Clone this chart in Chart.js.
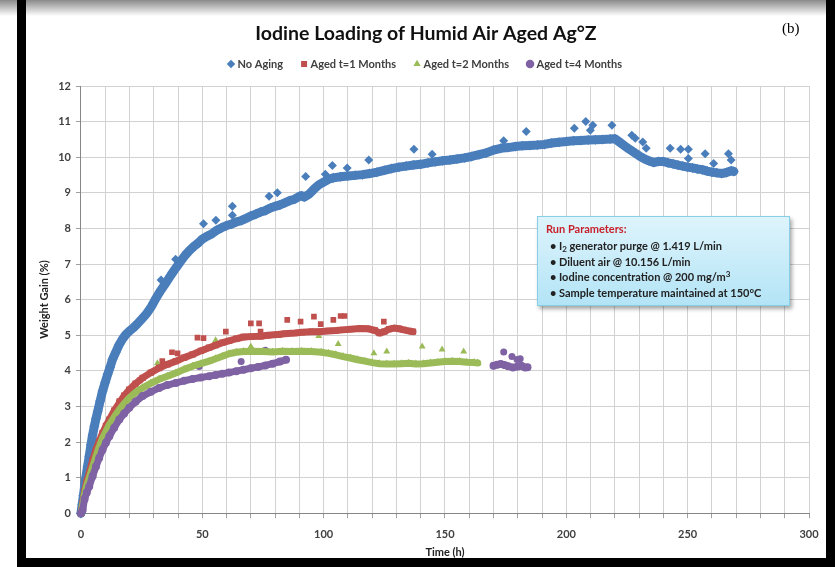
<!DOCTYPE html>
<html>
<head>
<meta charset="utf-8">
<title>Iodine Loading of Humid Air Aged Ag°Z</title>
<script src="https://cdn.jsdelivr.net/npm/chart.js@4.4.1/dist/chart.umd.min.js"></script>
<style>
body { margin: 0; background: #fff; }
#wrap { position: relative; width: 835px; height: 567px; overflow: hidden; background: #fff; }
#myChart { position: absolute; left: 0; top: 0; }
#topShade { position: absolute; left: 0; top: 0; width: 835px; height: 16px; background: linear-gradient(#8a8a8a, #ffffff); }
.bar { position: absolute; background: #000; }
#tag { position: absolute; left: 782px; top: 20px; font: 15px "Liberation Serif", serif; color: #000; }
#params {
    position: absolute; left: 537px; top: 216px; width: 251px; height: 88px;
    border: 1px solid #86cfe6;
    background: linear-gradient(#def4fc, #b3e4f6);
    box-shadow: 2px 3px 4px rgba(0,0,0,0.35);
    font: bold 11px Lato, sans-serif; color: #222;
}
#params .head { position: absolute; left: 8px; top: 5px; line-height: 14px; color: #c8202a; }
#params .row { position: absolute; left: 21px; line-height: 15px; white-space: nowrap; }
#params .row:before { content: "\2022"; position: absolute; left: -9px; }
#params sub { font-size: 8px; vertical-align: -2px; line-height: 0; }
#params sup { font-size: 8px; vertical-align: 4px; line-height: 0; }
</style>
</head>
<body>
<div id="wrap">
  <canvas id="myChart" width="835" height="567"></canvas>
  <div id="topShade"></div>
  <div class="bar" style="left:17px;top:0;width:9px;height:567px"></div>
  <div class="bar" style="left:826px;top:0;width:9px;height:567px"></div>
  <div class="bar" style="left:17px;top:558px;width:818px;height:9px"></div>
  <div id="tag">(b)</div>
  <div id="params">
    <div class="head">Run Parameters:</div>
    <div class="row" style="top:21px">I<sub>2</sub> generator purge @ 1.419 L/min</div>
    <div class="row" style="top:37px">Diluent air @ 10.156 L/min</div>
    <div class="row" style="top:52px">Iodine concentration @ 200 mg/m<sup>3</sup></div>
    <div class="row" style="top:68px">Sample temperature maintained at 150°C</div>
  </div>
</div>
<script>
// time (h), weight gain (%)
var noAging = [[0,0],[0.5,0.25],[1,0.5],[1.5,0.75],[2,1.0],[2.7,1.31],[3.4,1.6],[4.1,1.92],[4.8,2.2],[5.5,2.44],[6.2,2.66],[6.9,2.86],[7.9,3.15],[8.9,3.43],[10,3.68],[11,3.9],[12,4.1],[13,4.32],[14.4,4.53],[15.8,4.74],[17.2,4.9],[18.5,5.02],[20,5.12],[21.5,5.2],[23,5.3],[25,5.45],[27,5.6],[29,5.8],[31,6.05],[33,6.27],[35,6.47],[37,6.68],[39,6.88],[41,7.07],[43,7.25],[45,7.4],[47,7.52],[48.5,7.6],[50,7.7],[52,7.78],[54,7.85],[56,7.95],[58,8.02],[60,8.08],[62,8.12],[64,8.18],[66,8.22],[68,8.28],[70,8.35],[72,8.4],[74,8.46],[76,8.5],[78,8.57],[80,8.62],[82,8.66],[84,8.72],[86,8.78],[88,8.82],[90,8.9],[91,8.92],[92,8.88],[94,8.96],[96,9.1],[98,9.22],[100,9.3],[102,9.38],[104,9.42],[107,9.45],[110,9.47],[113,9.49],[116,9.51],[119,9.54],[122,9.58],[125,9.63],[128,9.68],[131,9.72],[134,9.75],[137,9.78],[140,9.8],[143,9.84],[146,9.87],[149,9.9],[152,9.92],[155,9.95],[158,9.98],[161,10.02],[164,10.07],[167,10.12],[170,10.2],[173,10.25],[176,10.27],[179,10.3],[182,10.32],[185,10.33],[188,10.34],[191,10.36],[194,10.4],[197,10.42],[200,10.44],[203,10.46],[206,10.47],[209,10.48],[212,10.49],[215,10.5],[218,10.51],[220,10.52],[222,10.42],[224,10.32],[226,10.22],[228,10.13],[230,10.04],[232,9.96],[234,9.9],[236,9.85],[238,9.88],[240,9.88],[242,9.84],[244,9.81],[246,9.78],[248,9.75],[250,9.72],[252,9.7],[254,9.67],[256,9.65],[258,9.61],[260,9.58],[262,9.56],[264,9.54],[266,9.57],[268,9.62],[269,9.6]];
var noAgingOut = [[22,5.24],[33,6.55],[39,7.13],[50.5,8.13],[55.6,8.23],[62.4,8.37],[62.4,8.62],[77.5,8.9],[80.9,9.0],[92.6,9.46],[100.7,9.52],[103.6,9.77],[109.7,9.7],[118.6,9.92],[137.2,10.22],[144.7,10.08],[174.2,10.46],[183.5,10.72],[203.3,10.81],[208,11.0],[210.9,10.9],[209.9,10.76],[218.8,10.9],[227,10.62],[228.4,10.53],[231.5,10.43],[232.9,10.25],[242.8,10.25],[247.1,10.22],[250.3,10.22],[250.3,9.96],[257.2,10.1],[260.7,9.82],[266.8,10.1],[267.9,9.92]];

var agedT1 = [[0,0],[0.7,0.28],[1.5,0.62],[2.4,0.9],[3.4,1.13],[4.8,1.48],[6.2,1.78],[7.5,2.02],[8.9,2.25],[10.3,2.45],[11.7,2.63],[13.7,2.88],[15.8,3.1],[17.8,3.3],[19.9,3.47],[22.5,3.64],[25.4,3.8],[28.8,3.95],[32.2,4.08],[35.6,4.18],[39.1,4.27],[42.5,4.37],[46,4.46],[49.4,4.56],[52.8,4.65],[55.5,4.72],[58.3,4.79],[61,4.84],[64,4.9],[67,4.95],[70,4.96],[74,4.97],[77,5.0],[81,5.02],[84,5.04],[88,5.06],[91,5.08],[95,5.1],[98,5.1],[102,5.12],[105,5.13],[108,5.15],[111,5.17],[115,5.19],[118,5.18],[121,5.14],[123,5.06],[125,5.1],[127,5.17],[129,5.2],[131,5.18],[133,5.15],[135,5.12],[136.8,5.1]];
var agedT1Out = [[8.2,1.83],[15.8,3.15],[24.2,3.73],[33.5,4.27],[37.5,4.52],[39.8,4.49],[48,4.93],[50.5,4.92],[59.7,5.1],[70,5.33],[73.4,5.33],[74,5.1],[85,5.43],[90.5,5.38],[96,5.52],[98.8,5.31],[104,5.43],[107,5.54],[108.6,5.54],[124.8,5.38]];

var agedT2 = [[0,0],[0.7,0.23],[1.5,0.55],[2.4,0.78],[3.4,0.99],[4.8,1.3],[6.2,1.6],[7.5,1.86],[8.9,2.11],[10.3,2.3],[11.7,2.49],[13.7,2.7],[15.8,2.91],[17.8,3.08],[19.9,3.24],[22.5,3.39],[25.4,3.52],[28.8,3.65],[32.2,3.76],[35.6,3.85],[39.1,3.94],[42.5,4.04],[46,4.13],[49.4,4.2],[52.8,4.27],[55.5,4.34],[58.3,4.41],[61,4.48],[64,4.52],[67,4.54],[71,4.55],[75,4.54],[79,4.53],[83,4.55],[87,4.54],[91,4.55],[95,4.54],[99,4.52],[102,4.49],[105,4.45],[108,4.4],[111,4.36],[114,4.31],[117,4.27],[120,4.23],[123,4.2],[126,4.19],[129,4.19],[132,4.2],[135,4.21],[138,4.19],[141,4.2],[144,4.22],[147,4.24],[150,4.26],[153,4.27],[156,4.26],[159,4.24],[162,4.23],[163.5,4.22]];
var agedT2Out = [[15,2.9],[31.5,4.21],[55.5,4.86],[70,4.68],[81.6,4.98],[98,4.98],[106,4.75],[120.7,4.49],[126,4.54],[140.6,4.68],[148.8,4.6],[157.7,4.54]];

var agedT4 = [[0,0],[0.7,0.09],[1.5,0.4],[2.4,0.58],[3.4,0.75],[4.8,1.04],[6.2,1.31],[7.5,1.55],[8.9,1.78],[10.3,1.98],[11.7,2.16],[13.7,2.4],[15.8,2.63],[17.8,2.8],[19.9,2.96],[22.5,3.13],[25.4,3.29],[28.8,3.41],[32.2,3.52],[35.6,3.6],[39.1,3.66],[42.5,3.72],[46,3.77],[49.4,3.81],[52.8,3.85],[55.5,3.88],[58.3,3.92],[61,3.95],[64,3.99],[67,4.03],[70,4.07],[73,4.11],[76,4.15],[79,4.2],[82,4.26],[84.5,4.31]];
var agedT4Late = [[170,4.14],[171.5,4.17],[173,4.19],[174.5,4.16],[176,4.13],[178,4.09],[180,4.12],[181.5,4.14],[183,4.09],[184,4.1]];
var agedT4Out = [[48.7,4.12],[66,4.26],[76,4.58],[174.2,4.53],[177.6,4.4],[179.7,4.32],[181,4.34]];

var xLabels = [0, 50, 100, 150, 200, 250, 300];

var fontFam = "Lato, 'Open Sans', sans-serif";

function pts(arr) {
    return arr.map(function (p) { return {x: p[0], y: p[1]}; });
}

function band(label, data, color, style, r, lw) {
    return {
        label: label, data: data, showLine: true,
        borderColor: color, backgroundColor: color, borderWidth: lw,
        borderJoinStyle: 'round', borderCapStyle: 'round',
        pointStyle: style, pointRadius: r, pointHoverRadius: r,
        pointBackgroundColor: color, pointBorderColor: color, pointBorderWidth: 0,
        clip: 8
    };
}

function dots(label, data, color, style, r) {
    return {
        label: label, data: data, showLine: false,
        borderColor: color, backgroundColor: color,
        pointStyle: style, pointRadius: r, pointHoverRadius: r, pointBorderWidth: 0,
        clip: 8
    };
}

var purple = "#7f62a3", green = "#9bbb59", red = "#c0504d", blue = "#4a7ebb";

var ctx = document.getElementById("myChart").getContext("2d");
var myChart = new Chart(ctx, {
    type: 'scatter',
    data: {
        datasets: [
            band("Aged t=4 Months", pts(agedT4).concat([{x: 127, y: null}], pts(agedT4Late)), purple, 'circle', 4, 7),
            band("Aged t=2 Months", pts(agedT2), green, 'triangle', 4.5, 7),
            band("Aged t=1 Months", pts(agedT1), red, 'rect', 4.5, 7),
            band("No Aging", pts(noAging), blue, 'rectRot', 5, 9),
            dots("Aged t=4 Months", pts(agedT4Out), purple, 'circle', 3.5),
            dots("Aged t=2 Months", pts(agedT2Out), green, 'triangle', 4),
            dots("Aged t=1 Months", pts(agedT1Out), red, 'rect', 4),
            dots("No Aging", pts(noAgingOut), blue, 'rectRot', 4.5)
        ]
    },
    options: {
        responsive: false,
        animation: false,
        layout: { padding: { top: 0, left: 43, right: 26, bottom: 4.4 } },
        plugins: {
            tooltip: { enabled: false },
            title: {
                display: true,
                text: 'Iodine Loading of Humid Air Aged Ag°Z',
                color: '#111',
                font: { family: fontFam, size: 19.5, weight: 'bold' },
                padding: { top: 21.8, bottom: -6.7 }
            },
            subtitle: {
                display: true, text: '', weight: 500,
                font: { size: 1 },
                padding: { top: 0, bottom: 5.3 }
            },
            legend: {
                position: 'top',
                labels: {
                    usePointStyle: true,
                    boxWidth: 2, boxHeight: 6,
                    padding: 20,
                    color: '#404040',
                    font: { family: fontFam, size: 11, weight: 'bold' },
                    filter: function (item) { return item.datasetIndex < 4; },
                    sort: function (a, b) { return b.datasetIndex - a.datasetIndex; }
                }
            }
        },
        scales: {
            x: {
                type: 'linear', min: 0, max: 300,
                border: { color: '#868686' },
                grid: { color: '#d2d2d2', tickLength: 5, tickColor: '#a0a0a0' },
                ticks: {
                    stepSize: 10, autoSkip: false, maxRotation: 0, padding: 10,
                    color: '#404040', font: { family: fontFam, size: 11, weight: 'bold' },
                    callback: function (v) { return xLabels.indexOf(v) >= 0 ? v : ''; }
                },
                title: {
                    display: true, text: 'Time (h)', color: '#222',
                    font: { family: fontFam, size: 11, weight: 'bold' },
                    padding: { top: -6, bottom: 4 }
                }
            },
            y: {
                min: 0, max: 12,
                border: { color: '#868686' },
                grid: { color: '#d2d2d2', tickLength: 5, tickColor: '#a0a0a0' },
                ticks: {
                    stepSize: 1, padding: 5,
                    color: '#404040', font: { family: fontFam, size: 11, weight: 'bold' }
                },
                title: {
                    display: true, text: 'Weight Gain (%)', color: '#222',
                    font: { family: fontFam, size: 11, weight: 'bold' },
                    padding: { top: -5.6, bottom: 2.6 }
                }
            }
        }
    }
});
</script>
</body>
</html>
